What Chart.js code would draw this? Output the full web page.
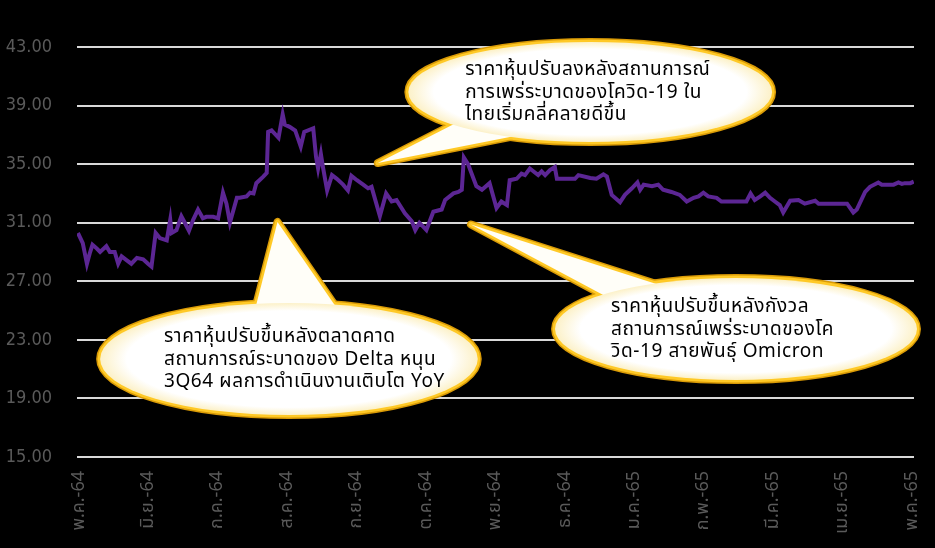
<!DOCTYPE html>
<html>
<head>
<meta charset="utf-8">
<script src="https://cdn.jsdelivr.net/npm/chart.js@4.4.1/dist/chart.umd.min.js"></script>
<style>
  html, body { margin: 0; padding: 0; background: #000; }
  #wrap { width: 935px; height: 548px; }
</style>
</head>
<body>
<div id="wrap"><canvas id="priceChart"></canvas></div>
<script>
// month labels, one per tick (x = 0 .. 12)
const monthLabels = ['พ.ค.-64', 'มิ.ย.-64', 'ก.ค.-64', 'ส.ค.-64', 'ก.ย.-64', 'ต.ค.-64',
    'พ.ย.-64', 'ธ.ค.-64', 'ม.ค.-65', 'ก.พ.-65', 'มี.ค.-65', 'เม.ย.-65', 'พ.ค.-65'];

// position of each price, in months after พ.ค.-64
const priceMonth = [
    -0.03, 0.04, 0.10, 0.14, 0.18, 0.24, 0.29, 0.38, 0.43, 0.50, 0.55, 0.60, 0.67, 0.74, 0.82, 0.91, 0.98,
    1.03, 1.09, 1.15, 1.25, 1.30, 1.32, 1.39, 1.46, 1.51, 1.57, 1.63, 1.70, 1.77, 1.82, 1.92, 1.99,
    2.06, 2.11, 2.16, 2.26, 2.30, 2.40, 2.45, 2.50, 2.54, 2.64, 2.69, 2.71, 2.76, 2.86, 2.92, 2.95,
    3.02, 3.10, 3.18, 3.23, 3.36, 3.40, 3.43, 3.47, 3.50, 3.56, 3.63, 3.70, 3.79, 3.86, 3.91, 3.99,
    4.08, 4.15, 4.20, 4.32, 4.41, 4.49, 4.56, 4.68, 4.78, 4.83, 4.89, 4.99,
    5.09, 5.21, 5.26, 5.38, 5.45, 5.50, 5.53, 5.59, 5.71, 5.79, 5.90,
    6.00, 6.07, 6.15, 6.19, 6.29, 6.36, 6.41, 6.48, 6.60, 6.65, 6.70, 6.77, 6.84, 6.87,
    7.01, 7.13, 7.18, 7.35, 7.44, 7.54, 7.59, 7.66, 7.78, 7.85, 7.95,
    8.03, 8.07, 8.12, 8.24, 8.33, 8.40, 8.52, 8.64, 8.74, 8.84, 8.91, 8.98,
    9.05, 9.17, 9.24, 9.36, 9.60, 9.66, 9.72, 9.80, 9.87, 9.94,
    10.01, 10.08, 10.13, 10.23, 10.35, 10.44, 10.59, 10.64, 10.80,
    11.05, 11.14, 11.19, 11.31, 11.38, 11.50, 11.55, 11.72, 11.79, 11.84, 11.88, 11.96, 12.01
];

// share price (baht)
const priceValue = [
    30.3, 29.6, 28.2, 28.9, 29.5, 29.25, 29.0, 29.4, 29.0, 29.0, 28.2, 28.7, 28.45, 28.2, 28.6, 28.5, 28.2,
    28.0, 30.3, 29.95, 29.8, 31.2, 30.3, 30.5, 31.45, 31.0, 30.45, 31.2, 31.9, 31.3, 31.4, 31.4, 31.3,
    33.05, 32.3, 31.0, 32.7, 32.7, 32.8, 33.05, 33.0, 33.7, 34.15, 34.4, 37.2, 37.3, 36.8, 38.4, 37.7,
    37.55, 37.3, 36.2, 37.2, 37.45, 35.5, 34.7, 35.7, 34.8, 33.2, 34.25, 34.0, 33.6, 33.2, 34.2, 33.9,
    33.6, 33.35, 33.45, 31.45, 33.0, 32.45, 32.55, 31.65, 31.1, 30.5, 31.0, 30.5,
    31.75, 31.9, 32.55, 33.0, 33.1, 33.25, 35.45, 35.0, 33.5, 33.25, 33.7,
    32.0, 32.45, 32.2, 33.9, 34.0, 34.35, 34.25, 34.7, 34.25, 34.5, 34.25, 34.6, 34.8, 34.0,
    34.0, 34.0, 34.25, 34.05, 34.0, 34.3, 34.15, 32.9, 32.4, 32.9, 33.35,
    33.75, 33.25, 33.6, 33.5, 33.6, 33.25, 33.1, 32.9, 32.45, 32.7, 32.8, 33.05,
    32.8, 32.7, 32.45, 32.45, 32.45, 33.0, 32.55, 32.8, 33.05, 32.7,
    32.45, 32.2, 31.7, 32.5, 32.55, 32.3, 32.5, 32.3, 32.3,
    32.3, 31.7, 31.9, 33.1, 33.45, 33.75, 33.6, 33.6, 33.75, 33.65, 33.7, 33.7, 33.8
];

const callouts = [
    {
        lines: ['ราคาหุ้นปรับลงหลังสถานการณ์', 'การเพร่ระบาดของโควิด-19 ใน', 'ไทยเริ่มคลี่คลายดีขึ้น'],
        center: [7.35, 39.93], radius: [2.62, 3.42],
        tip: [4.29, 35.08], base: [[5.445, 37.88], [6.338, 36.99]]
    },
    {
        lines: ['ราคาหุ้นปรับขึ้นหลังตลาดคาด', 'สถานการณ์ระบาดของ Delta หนุน', '3Q64 ผลการดำเนินงานเติบโต YoY'],
        center: [3.01, 21.69], radius: [2.72, 3.83],
        tip: [2.845, 31.05], base: [[2.501, 24.70], [3.768, 24.70]]
    },
    {
        lines: ['ราคาหุ้นปรับขึ้นหลังกังวล', 'สถานการณ์เพร่ระบาดของโค', 'วิด-19 สายพันธุ์ Omicron'],
        center: [9.45, 23.74], radius: [2.607, 3.48],
        tip: [5.632, 30.88], base: [[8.427, 26.62], [7.707, 25.63]]
    }
];

const calloutPlugin = {
    id: 'callouts',
    afterDatasetsDraw(chart) {
        const ctx = chart.ctx;
        const xs = chart.scales.x;
        const ys = chart.scales.y;
        const px = p => [xs.getPixelForValue(p[0]), ys.getPixelForValue(p[1])];
        callouts.forEach(c => {
            const [cx, cy] = px(c.center);
            const rx = Math.abs(xs.getPixelForValue(c.center[0] + c.radius[0]) - cx);
            const ry = Math.abs(ys.getPixelForValue(c.center[1] + c.radius[1]) - cy);
            const tip = px(c.tip);
            const b1 = px(c.base[0]);
            const b2 = px(c.base[1]);

            const ellipse = () => {
                ctx.beginPath();
                ctx.ellipse(cx, cy, rx, ry, 0, 0, Math.PI * 2);
            };
            const tail = () => {
                ctx.beginPath();
                ctx.moveTo(tip[0], tip[1]);
                ctx.lineTo(b1[0], b1[1]);
                ctx.lineTo(b2[0], b2[1]);
                ctx.closePath();
            };

            ctx.save();
            ctx.lineJoin = 'round';
            ctx.strokeStyle = '#d99a06';
            ctx.lineWidth = 8;
            ellipse(); ctx.stroke();
            tail(); ctx.stroke();
            ctx.strokeStyle = '#ffc926';
            ctx.lineWidth = 5;
            ellipse(); ctx.stroke();
            tail(); ctx.stroke();

            ctx.fillStyle = '#fffef8';
            tail(); ctx.fill();

            // white body with a thin cream rim
            ctx.save();
            ctx.translate(cx, cy);
            ctx.scale(1, ry / rx);
            const g = ctx.createRadialGradient(0, 0, 0, 0, 0, rx);
            g.addColorStop(0, '#ffffff');
            g.addColorStop(0.86, '#ffffff');
            g.addColorStop(1, '#fcf1c8');
            ctx.fillStyle = g;
            ctx.beginPath();
            ctx.arc(0, 0, rx, 0, Math.PI * 2);
            ctx.fill();
            ctx.restore();

            ctx.fillStyle = '#000000';
            ctx.font = '19px Tahoma, "Noto Sans Thai", "Noto Sans", "DejaVu Sans", sans-serif';
            ctx.letterSpacing = '0.6px';
            ctx.textAlign = 'left';
            ctx.textBaseline = 'middle';
            c.lines.forEach((t, i) => {
                ctx.fillText(t, cx - 125, cy + 2 + (i - 1) * 22.5);
            });
            ctx.restore();
        });
    }
};

const ctx = document.getElementById('priceChart').getContext('2d');
const priceChart = new Chart(ctx, {
    type: 'line',
    plugins: [calloutPlugin],
    data: {
        datasets: [{
            data: priceMonth.map((m, i) => ({ x: m, y: priceValue[i] })),
            borderColor: '#5c2694',
            borderWidth: 4,
            pointRadius: 0,
            tension: 0,
            fill: false
        }]
    },
    options: {
        responsive: true,
        maintainAspectRatio: false,
        animation: false,
        events: [],
        layout: {
            padding: { top: 47, right: 21, left: 0, bottom: 0 }
        },
        plugins: {
            legend: { display: false },
            tooltip: { enabled: false }
        },
        scales: {
            x: {
                type: 'linear',
                min: -0.043,
                max: 12.014,
                afterBuildTicks: scale => {
                    scale.ticks = monthLabels.map((_, i) => ({ value: i }));
                },
                afterFit: scale => {
                    scale.height = 91;
                    scale.paddingLeft = 0;
                    scale.paddingRight = 0;
                },
                grid: { display: false, drawTicks: false },
                border: { display: false },
                ticks: {
                    autoSkip: false,
                    minRotation: 90,
                    maxRotation: 90,
                    padding: 14,
                    color: '#5a5a5a',
                    font: { family: 'Tahoma, "Noto Sans Thai", "DejaVu Sans Condensed", "DejaVu Sans", sans-serif', size: 18 },
                    callback: value => monthLabels[value]
                }
            },
            y: {
                min: 15,
                max: 43,
                afterFit: scale => {
                    scale.width = 77;
                    scale.paddingTop = 0;
                    scale.paddingBottom = 0;
                },
                grid: { color: '#d9d9d9', lineWidth: 2, drawTicks: false },
                border: { display: false },
                ticks: {
                    stepSize: 4,
                    padding: 25,
                    color: '#5a5a5a',
                    font: { family: '"DejaVu Sans Condensed", "DejaVu Sans", sans-serif', size: 18 },
                    callback: value => value.toFixed(2)
                }
            }
        }
    }
});
</script>
</body>
</html>
